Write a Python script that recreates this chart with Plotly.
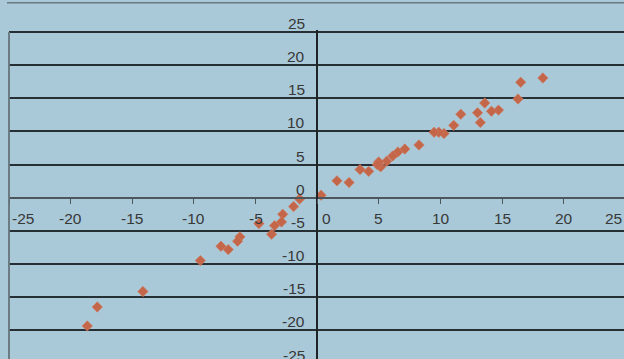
import plotly.graph_objects as go

# Paired observations (x, y)
x_vals = [18.3, 16.5, 16.28, 14.7, 14.13, 13.58, 13.0, 13.23, 11.64, 11.07,
          10.28, 9.86, 9.48, 8.25, 7.1, 6.54, 6.12, 5.63, 5.14, 4.98,
          4.87, 4.17, 3.47, 2.58, 1.6, 0.31, -1.43, -1.92, -2.8, -2.9,
          -3.46, -3.7, -4.73, -6.27, -6.46, -7.22, -7.81, -9.48, -14.14,
          -17.84, -18.65]
y_vals = [18.07, 17.42, 14.9, 13.22, 13.05, 14.28, 12.82, 11.34, 12.6, 10.92,
          9.68, 9.88, 9.88, 7.96, 7.35, 6.9, 6.3, 5.5, 4.65, 5.4,
          5.0, 3.98, 4.25, 2.3, 2.55, 0.38, -0.18, -1.33, -2.49, -3.65,
          -4.2, -5.5, -3.9, -5.9, -6.56, -7.82, -7.32, -9.48, -14.15,
          -16.47, -19.33]

# Axis tick labels
x_ticks = [-25, -20, -15, -10, -5, 0, 5, 10, 15, 20, 25]
y_ticks = [25, 20, 15, 10, 5, 0, -5, -10, -15, -20, -25]

W, H = 624, 359
ML, MT = 9, 30
X_RANGE = [-25, 24.88]
Y_RANGE = [-24.32, 25.30]
PX_PER_Y = (H - MT) / (Y_RANGE[1] - Y_RANGE[0])

BG = "#a9c9d9"
TXT = "#383838"
FONT = dict(family="Liberation Sans, Arial, sans-serif", size=15.5, color=TXT)

fig = go.Figure()
fig.add_trace(go.Scatter(
    x=x_vals, y=y_vals, mode="markers",
    marker=dict(symbol="diamond", size=8, color="#c4664a",
                line=dict(width=0.6, color="#d27a5c")),
    cliponaxis=False, showlegend=False, hoverinfo="skip",
))

annotations = []
# x-axis labels sit below the horizontal axis
for v in x_ticks:
    xa, xanchor, xshift = v, "center", 0
    if v == X_RANGE[0]:
        xanchor, xshift = "left", 1
    elif v > X_RANGE[1]:
        xa, xanchor = X_RANGE[1], "right"
    elif v == 0:
        xanchor, xshift = "left", 3
    annotations.append(dict(
        x=xa, y=0, xref="x", yref="y", text=str(v), showarrow=False,
        xanchor=xanchor, yanchor="middle", xshift=xshift, yshift=-21,
        font=FONT))
# y-axis labels sit left of the vertical axis, raised above their gridlines
for v in y_ticks:
    ya = min(max(v, Y_RANGE[0]), Y_RANGE[1])
    extra = (v - ya) * PX_PER_Y
    annotations.append(dict(
        x=0, y=ya, xref="x", yref="y", text=str(v), showarrow=False,
        xanchor="right", yanchor="middle", xshift=-10, yshift=8.5 + extra,
        font=FONT))

plot_w = W - ML
plot_h = H - MT
shapes = [
    # outer frame line across the top
    dict(type="line", xref="paper", yref="paper",
         x0=(7 - ML) / plot_w, x1=1.01, y0=1 + (MT - 2.7) / plot_h,
         y1=1 + (MT - 2.7) / plot_h, line=dict(color="#6a7880", width=1.6)),
    # left frame line of the plot area
    dict(type="line", xref="paper", yref="y", x0=0, x1=0, y0=25, y1=Y_RANGE[0] - 2,
         line=dict(color="#65737a", width=1.8)),
]

fig.update_layout(
    width=W, height=H,
    margin=dict(l=ML, r=0, t=MT, b=0, pad=0),
    paper_bgcolor=BG, plot_bgcolor=BG,
    annotations=annotations, shapes=shapes,
    xaxis=dict(range=X_RANGE, anchor="free",
               position=(0 - Y_RANGE[0]) / (Y_RANGE[1] - Y_RANGE[0]),
               showline=True, linecolor="#4b575d", linewidth=2,
               ticks="outside", ticklen=5, tickwidth=1.3, tickcolor="#4b575d",
               tick0=-25, dtick=5, showticklabels=False,
               showgrid=False, zeroline=False, fixedrange=True),
    yaxis=dict(range=Y_RANGE, anchor="free",
               position=(0 - X_RANGE[0]) / (X_RANGE[1] - X_RANGE[0]),
               showline=True, linecolor="#1e2326", linewidth=1.6,
               ticks="", tick0=0, dtick=5, showticklabels=False,
               showgrid=True, gridcolor="#263034", gridwidth=1.6,
               zeroline=False, fixedrange=True),
)

fig.write_html("out.html", config={"displayModeBar": False})
